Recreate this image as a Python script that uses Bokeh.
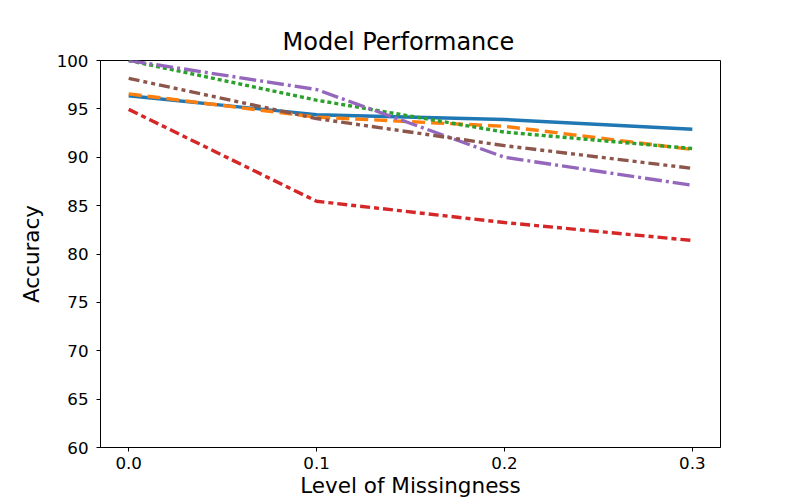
from bokeh.plotting import figure
from bokeh.embed import file_html
from bokeh.resources import INLINE
from bokeh.models import FixedTicker, PrintfTickFormatter, Range1d

# Data
missingness = [0.0, 0.1, 0.2, 0.3]
series_blue = [96.35, 94.4, 93.9, 92.9]
series_orange = [96.55, 94.15, 93.2, 90.8]
series_green = [100.0, 95.9, 92.6, 90.9]
series_red = [94.95, 85.45, 83.25, 81.4]
series_purple = [100.0, 97.0, 90.0, 87.1]
series_brown = [98.15, 94.0, 91.2, 88.85]
x_ticks = [0.0, 0.1, 0.2, 0.3]
y_ticks = [60, 65, 70, 75, 80, 85, 90, 95, 100]

FONT = "DejaVu Sans"

p = figure(
    width=800, height=500,
    min_border_left=100, min_border_right=80, min_border_top=60, min_border_bottom=40,
    x_range=Range1d(-0.015, 0.315), y_range=Range1d(60, 100),
    output_backend="svg", toolbar_location=None,
    title="Model Performance",
)

styles = [
    (series_blue, "#1f77b4", None),
    (series_orange, "#ff7f0e", "13 6"),
    (series_green, "#2ca02c", "4 3"),
    (series_red, "#d62728", "10 4 5 4"),
    (series_purple, "#9467bd", "17 4 3 4"),
    (series_brown, "#8c564b", "11 4 4 4 4 4"),
]
for ys, col, dash in styles:
    kw = dict(line_color=col, line_width=3.4)
    if dash:
        kw["line_dash"] = dash
    p.line(missingness, ys, **kw)

p.title.text_font = FONT
p.title.text_font_size = "24px"
p.title.text_font_style = "normal"
p.title.align = "left"
p.title.offset = 182
p.title.text_color = "black"

p.xgrid.visible = False
p.ygrid.visible = False
p.outline_line_color = "black"
p.outline_line_width = 1
p.outline_line_alpha = 1
p.background_fill_color = "white"
p.border_fill_color = "white"

p.xaxis.ticker = FixedTicker(ticks=x_ticks)
p.yaxis.ticker = FixedTicker(ticks=y_ticks)
p.xaxis.formatter = PrintfTickFormatter(format="%.1f")
p.yaxis.formatter = PrintfTickFormatter(format="%d")
p.xaxis.axis_label = "Level of Missingness"
p.yaxis.axis_label = "Accuracy"

for ax in (p.xaxis, p.yaxis):
    ax.axis_label_text_font = FONT
    ax.axis_label_text_font_size = "21.5px"
    ax.axis_label_text_font_style = "normal"
    ax.axis_label_text_color = "black"
    ax.major_label_text_font = FONT
    ax.major_label_text_font_size = "16.7px"
    ax.major_label_text_color = "black"
    ax.axis_line_color = "black"
    ax.major_tick_line_color = "black"
    ax.major_tick_in = 0
    ax.major_tick_out = 4
    ax.minor_tick_line_color = None

p.xaxis.major_label_standoff = 5
p.xaxis.axis_label_standoff = 1
p.yaxis.major_label_standoff = 8
p.yaxis.axis_label_standoff = 10

open("out.html", "w").write(file_html(p, INLINE))
